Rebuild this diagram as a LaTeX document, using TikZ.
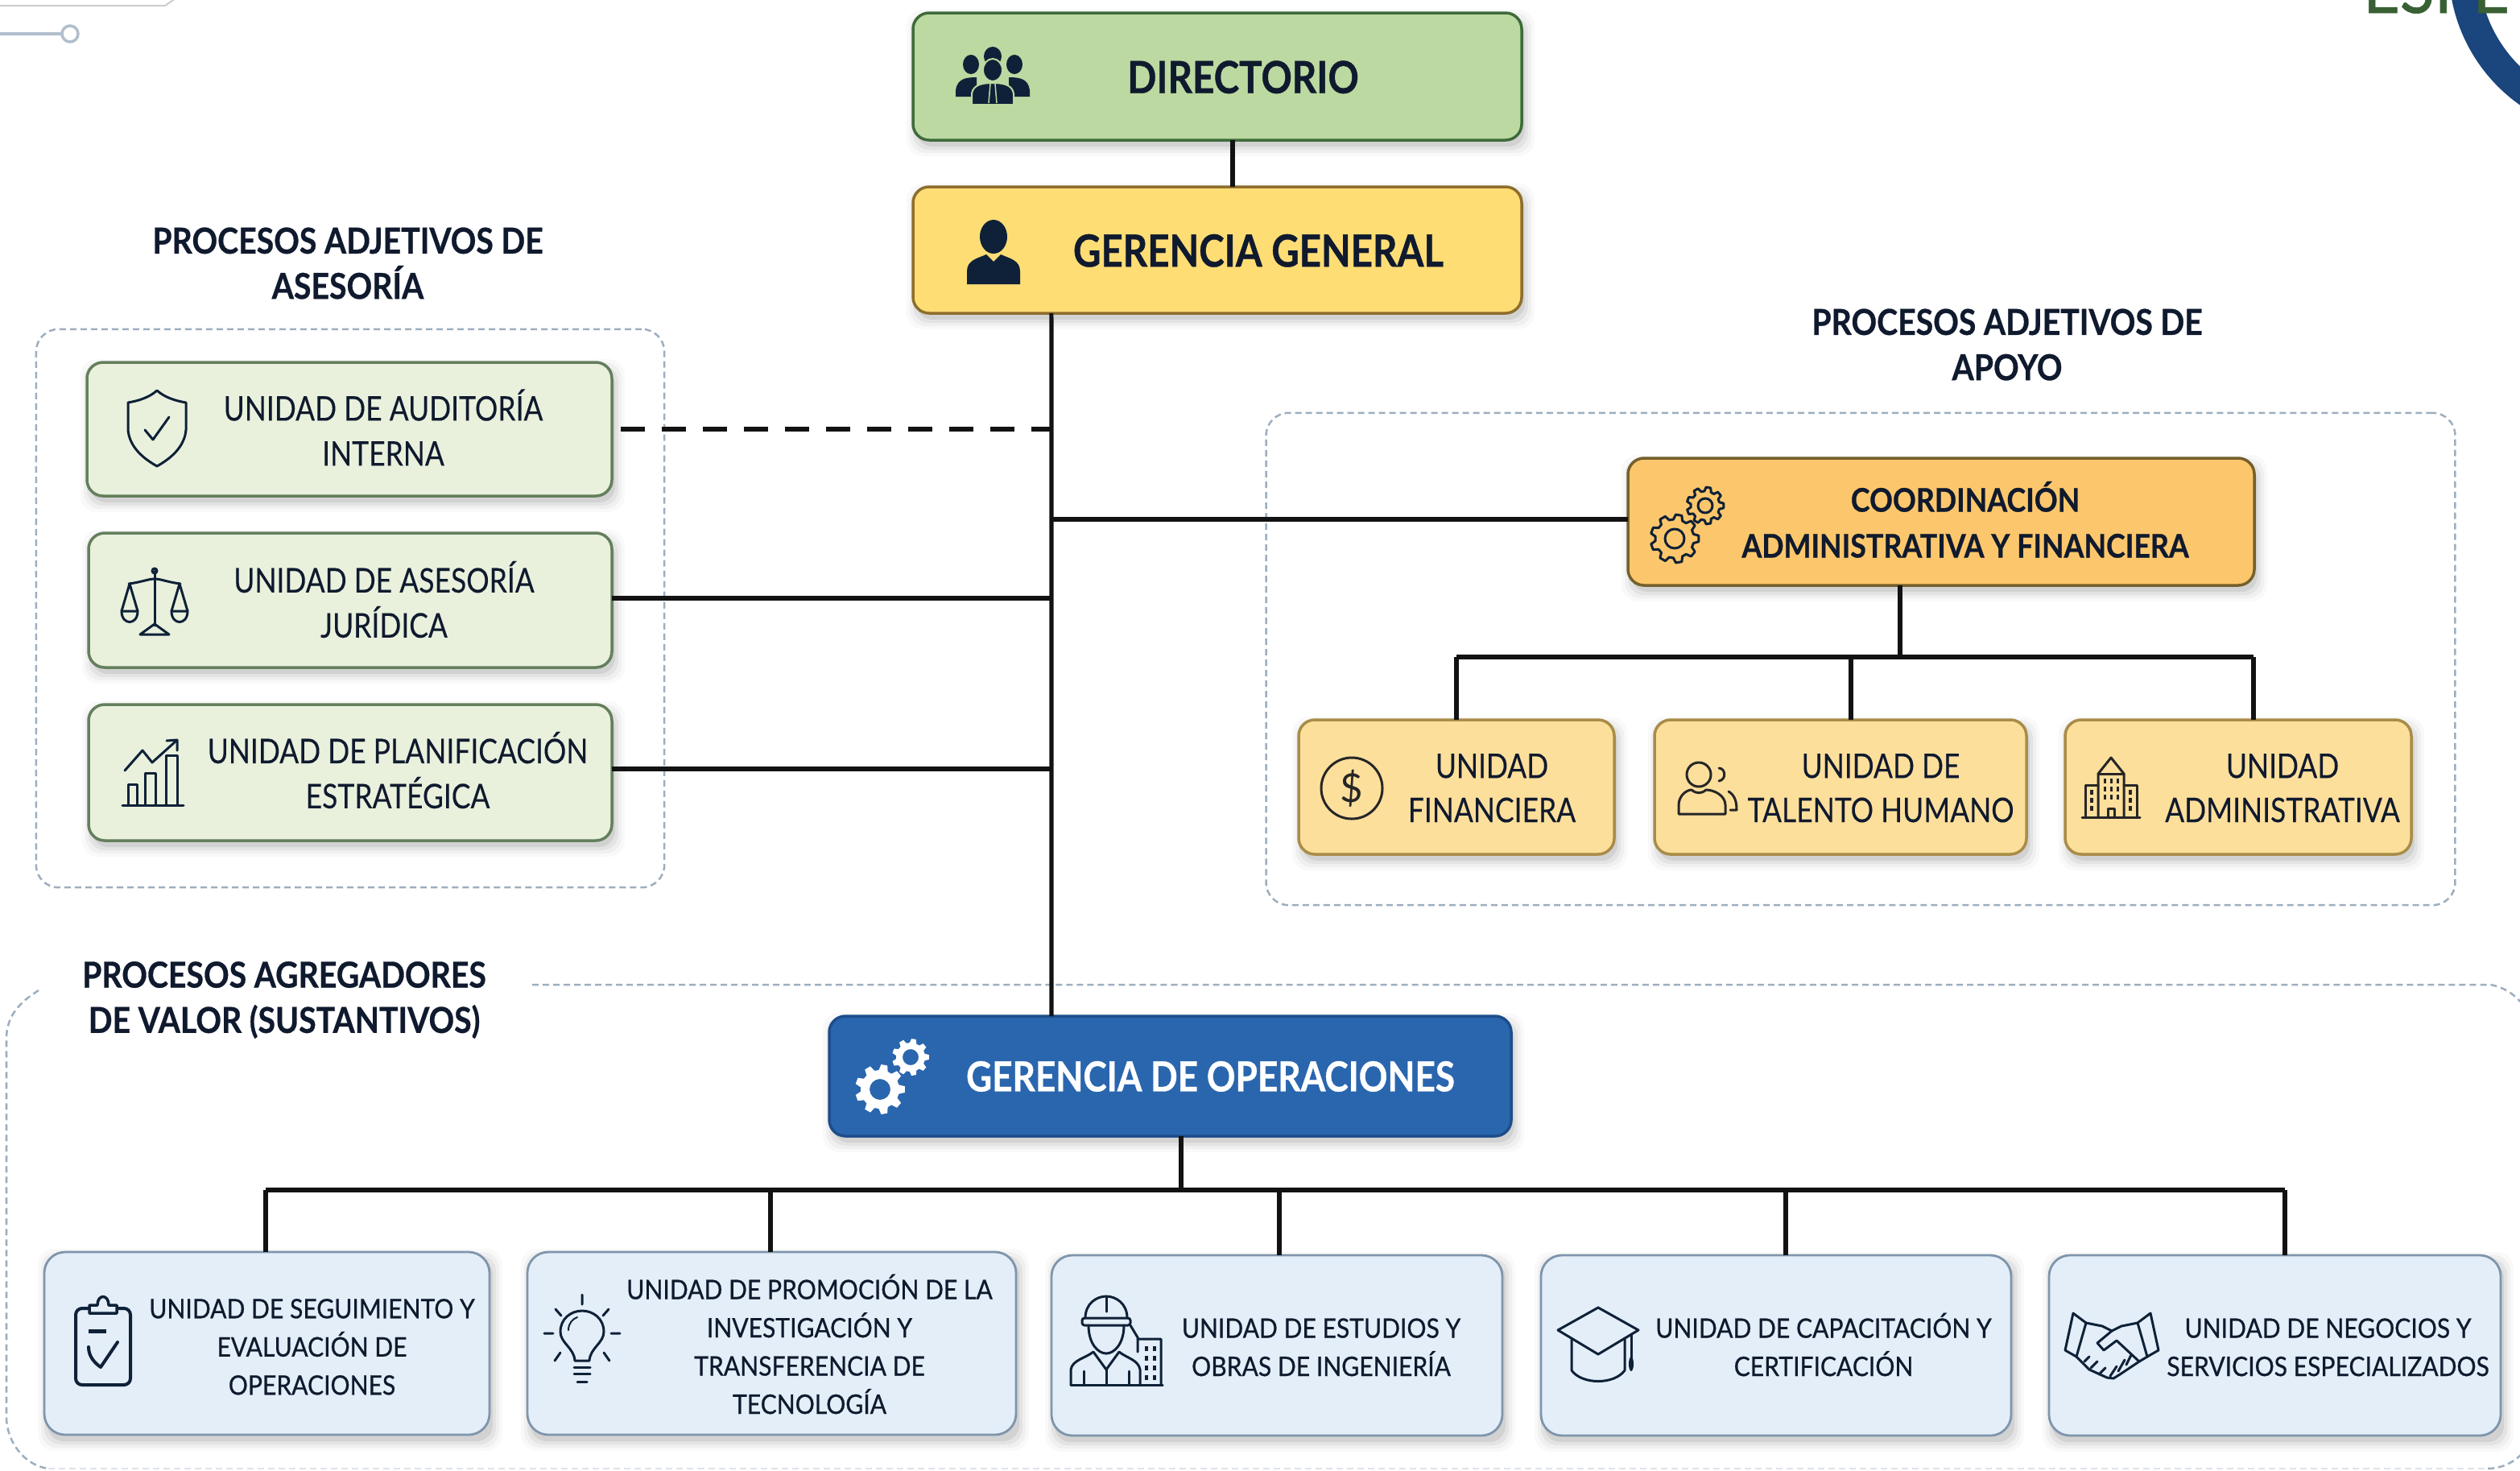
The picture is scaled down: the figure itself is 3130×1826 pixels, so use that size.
\documentclass[tikz,border=0pt]{standalone}
\usepackage{fontspec}
\setmainfont{Lato}
\newfontfamily\ftreg[FakeStretch=.84,FakeBold=.15]{Lato}
\newfontfamily\ftmed[FakeStretch=.90,FakeBold=.7]{Lato}
\newfontfamily\ftbold[FakeStretch=.86,BoldFeatures={FakeStretch=.86,FakeBold=.7}]{Lato}
\newfontfamily\ftboldw[FakeStretch=.885,BoldFeatures={FakeStretch=.885,FakeBold=.6}]{Lato}
\definecolor{ic}{HTML}{0F2138}
\definecolor{txt}{HTML}{101A2E}
\definecolor{dirF}{HTML}{BCD9A1}\definecolor{dirS}{HTML}{3F6B3A}
\definecolor{gerF}{HTML}{FFDD75}\definecolor{gerS}{HTML}{8E6E2C}
\definecolor{verF}{HTML}{E9F1DD}\definecolor{verS}{HTML}{647F5C}
\definecolor{corF}{HTML}{FCC76C}\definecolor{corS}{HTML}{74602C}
\definecolor{uniF}{HTML}{FDDF9C}\definecolor{uniS}{HTML}{A98C48}
\definecolor{opeF}{HTML}{2A66AE}\definecolor{opeS}{HTML}{1D4D8B}
\definecolor{bluF}{HTML}{E3EEF8}\definecolor{bluS}{HTML}{7F95AC}
\definecolor{grp}{HTML}{9DAEBF}
\newdimen\pxd \pxd=0.01cm
\tikzset{
 ubase/.style={rectangle,draw,rounded corners=.2cm,inner sep=0pt,outer sep=0pt,text=txt,line width=.035cm},
 dirBox/.style={ubase,fill=dirF,draw=dirS,font=\ftbold\bfseries\fontsize{15.7}{20}\selectfont},
 gerBox/.style={ubase,fill=gerF,draw=gerS,font=\ftbold\bfseries\fontsize{15.7}{20}\selectfont},
 verBox/.style={ubase,fill=verF,draw=verS,font=\ftreg\fontsize{12}{15.9}\selectfont},
 corBox/.style={ubase,fill=corF,draw=corS,font=\ftboldw\bfseries\fontsize{11.5}{16.2}\selectfont},
 uniBox/.style={ubase,fill=uniF,draw=uniS,font=\ftreg\fontsize{12}{15.6}\selectfont},
 opeBox/.style={ubase,fill=opeF,draw=opeS,text=white,font=\ftbold\bfseries\fontsize{14.6}{18}\selectfont},
 bluBox/.style={ubase,fill=bluF,draw=bluS,rounded corners=.26cm,line width=.028cm,font=\ftmed\fontsize{9.5}{13.5}\selectfont},
 sechead/.style={align=center,text=txt,inner sep=0pt,font=\ftboldw\bfseries\fontsize{12.6}{16}\selectfont},
 grpLine/.style={draw=grp,line width=.025cm,dash pattern=on .08cm off .05cm,rounded corners=.28cm},
 wire/.style={draw=black!93,line width=.052cm},
 wireDash/.style={wire,dash pattern=on .30cm off .21cm},
 ico/.style={draw=ic,line width=.03cm,line join=round,line cap=round,fill=none},
}
% box with text offset from the box centre
\newcommand\ubox[9]{%
 \foreach \ss/\oo in {12/.025,8/.035,4/.05,0/.07}{%
  \fill[black,opacity=\oo,rounded corners=.2cm] (#3+4-\ss,#4+8-\ss) rectangle (#5+4+\ss,#6+8+\ss);}
 \node[#2,minimum width={(#5-#3)*0.01cm},minimum height={(#6-#4)*0.01cm}] (#1) at ({(#3+#5)/2},{(#4+#6)/2})
 {\makebox[0pt]{\hspace*{#7\pxd}\hspace*{#7\pxd}\raisebox{\dimexpr -#8\pxd-0.35em\relax}[0pt][0pt]{\begin{tabular}[c]{@{}c@{}}#9\end{tabular}}}};}
\newcommand\gearico[7]{\begin{scope}[shift={(#1,#2)}]
 \pgfmathsetmacro\gd{360/#3}
 \path[#7] (-.34*\gd:#5) \foreach \i in {1,...,#3}{
   -- ({(\i-1)*\gd-.18*\gd}:#4) -- ({(\i-1)*\gd+.18*\gd}:#4) -- ({(\i-1)*\gd+.34*\gd}:#5) -- ({\i*\gd-.34*\gd}:#5)} -- cycle
   (#6,0) arc[start angle=0,end angle=360,radius=#6];
 \end{scope}}
\begin{document}
\begin{tikzpicture}[x=0.01cm,y=-0.01cm]
\useasboundingbox (0,0) rectangle (3130,1826);
\fill[white] (0,0) rectangle (3130,1826);
% page decorations
\draw[draw=black!20,line width=.02cm] (0,7) -- (205,7) -- (218,-2);
\draw[draw=grp!80,line width=.035cm] (0,42) -- (77,42);
\draw[draw=grp!80,line width=.035cm] (87,42) circle (10);
% logo
\begin{scope}
 \clip (0,0) rectangle (3130,1826);
 \draw[draw=opeS!90!black,line width=.37cm] (3250,-40) circle (190);
 \node[anchor=base,inner sep=0pt,text=dirS!90!black,font=\ftmed\fontsize{25}{25}\selectfont] (logoText) at (3026,16) {ESPE};
\end{scope}
% group frames
\node[grpLine,draw,minimum width=7.8cm,minimum height=6.93cm,inner sep=0pt] (grpAse) at (435,755.5) {};
\node[grpLine,draw,minimum width=14.76cm,minimum height=6.11cm,inner sep=0pt] (grpApo) at (2311,818.5) {};
\draw[grpLine,rounded corners=0] (661,1223) -- (3093,1223) .. controls (3110,1226) and (3122,1234) .. (3134,1248);
\draw[grpLine,rounded corners=0] (48,1230) .. controls (24,1245) and (8,1262) .. (8,1290) -- (8,1760) .. controls (8,1790) and (30,1820) .. (60,1824);
\draw[grpLine,rounded corners=0,draw=grp!35] (60,1824) -- (3090,1824);
\draw[grpLine,rounded corners=0] (3090,1824) .. controls (3105,1824) and (3120,1818) .. (3132,1806);
% section headings
\node[sechead] (lblAse) at (432,327) {PROCESOS ADJETIVOS DE\\ASESORÍA};
\node[sechead] (lblApo) at (2493,428) {PROCESOS ADJETIVOS DE\\APOYO};
\node[sechead] (lblVal) at (353,1242) {PROCESOS AGREGADORES\\DE VALOR (SUSTANTIVOS)};
% boxes
\ubox{dir}{dirBox}{1134}{16}{1890}{174}{32}{0}{DIRECTORIO}
\ubox{ger}{gerBox}{1134}{232}{1890}{389}{51}{0}{GERENCIA GENERAL}
\ubox{aud}{verBox}{108}{450}{760}{616}{42}{2}{UNIDAD DE AUDITORÍA\\INTERNA}
\ubox{ase}{verBox}{110}{662}{760}{829}{42}{3}{UNIDAD DE ASESORÍA\\JURÍDICA}
\ubox{pla}{verBox}{110}{875}{760}{1044}{59}{1}{UNIDAD DE PLANIFICACIÓN\\ESTRATÉGICA}
\ubox{cor}{corBox}{2022}{569}{2800}{727}{30}{1}{COORDINACIÓN\\ADMINISTRATIVA Y FINANCIERA}
\ubox{fin}{uniBox}{1613}{894}{2005}{1061}{44}{1}{UNIDAD\\FINANCIERA}
\ubox{tal}{uniBox}{2055}{894}{2517}{1061}{50}{1}{UNIDAD DE\\TALENTO HUMANO}
\ubox{adm}{uniBox}{2565}{894}{2995}{1061}{55}{1}{UNIDAD\\ADMINISTRATIVA}
\ubox{ope}{opeBox}{1030}{1262}{1877}{1411}{50}{1}{GERENCIA DE OPERACIONES}
\ubox{seg}{bluBox}{55}{1555}{608}{1782}{56}{3}{UNIDAD DE SEGUIMIENTO Y\\EVALUACIÓN DE\\OPERACIONES}
\ubox{pro}{bluBox}{655}{1555}{1262}{1782}{47}{3}{UNIDAD DE PROMOCIÓN DE LA\\INVESTIGACIÓN Y\\TRANSFERENCIA DE\\TECNOLOGÍA}
\ubox{est}{bluBox}{1306}{1559}{1866}{1783}{55}{1}{UNIDAD DE ESTUDIOS Y\\OBRAS DE INGENIERÍA}
\ubox{cap}{bluBox}{1914}{1559}{2498}{1783}{59}{1}{UNIDAD DE CAPACITACIÓN Y\\CERTIFICACIÓN}
\ubox{neg}{bluBox}{2545}{1559}{3106}{1783}{66}{1}{UNIDAD DE NEGOCIOS Y\\SERVICIOS ESPECIALIZADOS}
% connector junctions
\coordinate (tAud) at (1306,533);
\coordinate (tAse) at (1306,743);
\coordinate (tCor) at (1306,645);
\coordinate (tPla) at (1306,955);
\coordinate (audEnd) at (771,533);
\coordinate (busA) at (2360,816);
\coordinate (uFin) at (1809,816);
\coordinate (uTal) at (2299,816);
\coordinate (uAdm) at (2799,816);
\coordinate (busO) at (1467,1478);
\coordinate (oSeg) at (330,1478);
\coordinate (oPro) at (957,1478);
\coordinate (oEst) at (1589,1478);
\coordinate (oCap) at (2218,1478);
\coordinate (oNeg) at (2838,1478);
% connectors
\draw[wire] ([xshift=.19cm]dir.south) -- ([xshift=.19cm]ger.north);
\draw[wire] ([xshift=-2.06cm]ger.south) -- ([xshift=-1.475cm]ope.north);
\draw[wireDash] (audEnd) -- (tAud);
\draw[wire] (ase.east |- tAse) -- (tAse);
\draw[wire] (pla.east |- tPla) -- (tPla);
\draw[wire] (tCor) -- (cor.west |- tCor);
\draw[wire] (cor.south -| busA) -- (busA);
\draw[wire] (uFin) -- (uAdm);
\draw[wire] (fin.north -| uFin) -- (uFin);
\draw[wire] (tal.north -| uTal) -- (uTal);
\draw[wire] (adm.north -| uAdm) -- (uAdm);
\draw[wire] (ope.south -| busO) -- (busO);
\draw[wire] (oSeg) -- (oNeg);
\draw[wire] (seg.north -| oSeg) -- (oSeg);
\draw[wire] (pro.north -| oPro) -- (oPro);
\draw[wire] (est.north -| oEst) -- (oEst);
\draw[wire] (cap.north -| oCap) -- (oCap);
\draw[wire] (neg.north -| oNeg) -- (oNeg);
% ---- icons ----
% directorio
\begin{scope}[shift={(1233,94)}]
 \fill[ic] (-27,-14) ellipse (10 and 12) (27,-14) ellipse (10 and 12) (0,-24) ellipse (11 and 12);
 \fill[ic] (-46,26) -- (-46,18) .. controls (-44,4) and (-34,2) .. (-20,2) -- (-20,26) -- cycle;
 \fill[ic] (46,26) -- (46,18) .. controls (44,4) and (34,2) .. (20,2) -- (20,26) -- cycle;
 \filldraw[fill=ic,draw=dirF,line width=.02cm] (0,-7) ellipse (12 and 14);
 \filldraw[fill=ic,draw=dirF,line width=.02cm] (-26,36) -- (-26,22) .. controls (-24,10) and (-10,9) .. (0,9) .. controls (10,9) and (24,10) .. (26,22) -- (26,36) -- cycle;
 \draw[dirF,line width=.015cm] (-3,10) -- (-5,34) (3,10) -- (5,34);
\end{scope}
% gerencia
\begin{scope}[shift={(1234,313)}]
 \fill[ic] (0,-19) ellipse (17 and 21);
 \fill[ic] (-33,40) -- (-33,24) .. controls (-33,10) and (-20,8) .. (-9,3) -- (0,12) -- (9,3) .. controls (20,8) and (33,10) .. (33,24) -- (33,40) -- cycle;
\end{scope}
% shield
\begin{scope}[shift={(195,532)}]
 \draw[ico] (0,-47) .. controls (-10,-38) and (-24,-34) .. (-36,-32) -- (-36,2) .. controls (-34,24) and (-16,38) .. (0,47) .. controls (16,38) and (34,24) .. (36,2) -- (36,-32) .. controls (24,-34) and (10,-38) .. (0,-47) -- cycle;
 \draw[ico] (-15,2) -- (-5,14) -- (15,-14);
\end{scope}
% scales
\begin{scope}[shift={(192,747)}]
 \draw[ico] (0,-38) -- (0,30);
 \draw[ico] (0,-38) circle (3);
 \draw[ico] (-32,-22) .. controls (-16,-24) and (-8,-28) .. (0,-28) .. controls (8,-28) and (16,-24) .. (32,-22);
 \draw[ico] (-41,12) -- (-31,-22) -- (-21,12) (41,12) -- (31,-22) -- (21,12);
 \draw[ico] (-41,12) -- (-21,12) .. controls (-21,30) and (-41,30) .. (-41,12) -- cycle;
 \draw[ico] (41,12) -- (21,12) .. controls (21,30) and (41,30) .. (41,12) -- cycle;
 \draw[ico] (-18,41) -- (18,41) -- (0,28) -- cycle;
\end{scope}
% chart
\begin{scope}[shift={(190,960)}]
 \draw[ico] (-38,40) -- (38,40);
 \draw[ico] (-31,40) -- (-31,14) -- (-20,14) -- (-20,40);
 \draw[ico] (-10,40) -- (-10,0) -- (3,0) -- (3,40);
 \draw[ico] (16,40) -- (16,-22) -- (30,-22) -- (30,40);
 \draw[ico] (-35,-3) -- (-13,-28) -- (-1,-13) -- (29,-40);
 \draw[ico] (17,-40) -- (30,-41) -- (30,-28);
\end{scope}
% coordinacion gears
\gearico{2080}{669}{9}{30}{24}{12}{ico,draw=ic}
\gearico{2118}{628}{9}{23}{18}{9}{ico,draw=ic}
% dollar
\draw[ico,draw=black!85] (1679,979) circle (38);
\node[inner sep=0pt,text=black!85,font=\fontsize{14}{14}\selectfont] (dollarSign) at (1679,979) {\$};
% talento
\begin{scope}[shift={(2121,978)}]
 \draw[ico,draw=black!85] (-11,-16) circle (15);
 \draw[ico,draw=black!85] (-36,33) -- (-36,22) .. controls (-36,10) and (-26,3) .. (-20,3) .. controls (-14,8) and (-8,8) .. (-2,3) .. controls (8,3) and (22,10) .. (22,22) -- (22,33) -- cycle;
 \draw[ico,draw=black!85] (14,-24) .. controls (22,-24) and (24,-10) .. (14,-8);
 \draw[ico,draw=black!85] (26,5) .. controls (34,10) and (36,18) .. (36,28) -- (28,28);
\end{scope}
% building
\begin{scope}[shift={(2622,978)}]
 \draw[ico,draw=black!85] (-36,37) -- (36,37);
 \draw[ico,draw=black!85] (-16,37) -- (-16,-17) -- (0,-37) -- (16,-17) -- (16,37);
 \draw[ico,draw=black!85] (-16,-17) -- (16,-17);
 \draw[ico,draw=black!85] (-16,-3) -- (-32,-3) -- (-32,37) (16,-3) -- (32,-3) -- (32,37);
 \draw[ico,draw=black!85] (-4,37) -- (-4,26) -- (4,26) -- (4,37);
 \foreach \wx in {-8,0,8}{\foreach \wy in {-8,2,12}{\fill[black!85] (\wx-1.5,\wy-3) rectangle (\wx+1.5,\wy+3);}}
 \foreach \wx in {-24,24}{\foreach \wy in {6,16,26}{\fill[black!85] (\wx-2,\wy-3) rectangle (\wx+2,\wy+3);}}
\end{scope}
% operaciones gears
\gearico{1093}{1353}{9}{31}{24}{13}{fill=white,even odd rule}
\gearico{1131}{1313}{9}{23}{18}{10}{fill=white,even odd rule}
% clipboard
\begin{scope}[shift={(128,1665)}]
 \draw[ico,line width=.04cm,rounded corners=.08cm] (-34,-40) rectangle (34,55);
 \filldraw[ico,line width=.035cm,fill=bluF] (-17,-34) -- (-17,-44) -- (-7,-44) .. controls (-7,-58) and (7,-58) .. (7,-44) -- (17,-44) -- (17,-34) -- cycle;
 \draw[ico,line width=.05cm,line cap=butt] (-18,-12) -- (4,-12);
 \draw[ico,line width=.04cm] (-18,8) .. controls (-18,20) and (-10,28) .. (-3,33) -- (18,2);
\end{scope}
% bulb
\begin{scope}[shift={(723,1660)}]
 \draw[ico] (-9,30) .. controls (-10,14) and (-27,8) .. (-27,-6) .. controls (-27,-22) and (-14,-32) .. (0,-32) .. controls (14,-32) and (27,-22) .. (27,-6) .. controls (27,8) and (10,14) .. (9,30) -- cycle;
 \draw[ico] (-10,38) -- (10,38) (-10,46) -- (10,46) (-6,56) -- (6,56);
 \draw[ico] (0,-52) -- (0,-40) (-33,-34) -- (-26,-26) (33,-34) -- (26,-26) (-47,-4) -- (-36,-4) (47,-4) -- (36,-4) (-34,30) -- (-27,20) (34,30) -- (27,20);
 \draw[ico,line width=.02cm] (-17,-8) .. controls (-17,-16) and (-12,-22) .. (-6,-24);
\end{scope}
% worker
\begin{scope}[shift={(1386,1665)}]
 \draw[ico] (-38,-28) .. controls (-38,-46) and (-24,-55) .. (-12,-55) .. controls (0,-55) and (14,-46) .. (14,-28);
 \draw[ico,rounded corners=.03cm] (-42,-28) rectangle (18,-19);
 \draw[ico] (-12,-55) -- (-12,-36);
 \draw[ico] (-34,-19) .. controls (-34,4) and (-22,16) .. (-12,16) .. controls (-2,16) and (10,4) .. (10,-19);
 \draw[ico] (-56,55) -- (-56,36) .. controls (-54,24) and (-38,22) .. (-28,14) -- (-12,36) -- (4,14) .. controls (14,22) and (28,24) .. (30,36) -- (30,55);
 \draw[ico] (-12,36) -- (-12,55) (-40,38) -- (-40,55) (16,38) -- (16,55);
 \draw[ico] (-56,55) -- (58,55);
 \draw[ico] (18,-19) -- (27,-4) -- (27,14) (27,-2) -- (56,-2) -- (56,55);
 \foreach \wy in {10,22,34,46}{\fill[ic] (36,\wy-3) rectangle (40,\wy+3);\fill[ic] (46,\wy-3) rectangle (50,\wy+3);}
\end{scope}
% graduation cap
\begin{scope}[shift={(1985,1670)}]
 \draw[ico] (-50,-18) -- (0,-46) -- (50,-18) -- (0,12) -- cycle;
 \draw[ico] (-33,-8) -- (-33,32) .. controls (-20,50) and (20,50) .. (33,32) -- (33,-8);
 \draw[ico] (41,-13) -- (41,18);
 \fill[ic] (41,24) ellipse (3 and 9);
\end{scope}
% handshake
\begin{scope}[shift={(2623,1671)}]
 \draw[ico] (-48,-40) -- (-58,6) -- (-44,14) -- (-32,-28) -- cycle;
 \draw[ico] (48,-40) -- (58,6) -- (44,14) -- (32,-28) -- cycle;
 \draw[ico] (-32,-28) -- (-12,-24) -- (0,-18) -- (12,-24) -- (32,-28);
 \draw[ico] (0,-18) -- (-18,-3) -- (-10,6) -- (6,-6) -- (34,20);
 \draw[ico] (-44,14) -- (-28,30) -- (-6,40) -- (2,41) -- (10,36) -- (34,20) -- (44,14);
 \draw[ico] (-28,14) -- (-34,20) (-18,20) -- (-26,28) (-8,28) -- (-16,36) (6,26) -- (-2,38) (16,18) -- (8,32) (24,12) -- (18,24);
\end{scope}
\end{tikzpicture}
\end{document}
